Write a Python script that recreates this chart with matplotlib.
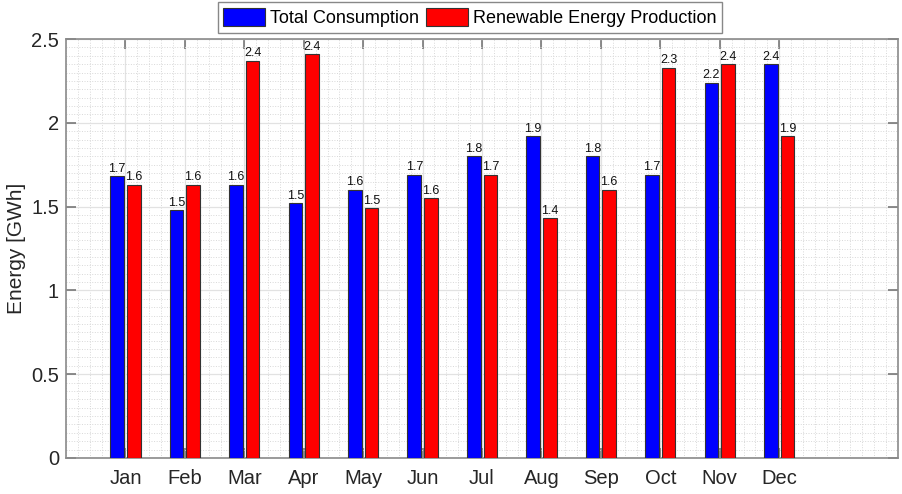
import matplotlib
matplotlib.use("Agg")
import matplotlib.pyplot as plt
import numpy as np
from matplotlib.ticker import MultipleLocator, FuncFormatter

months = ["Jan", "Feb", "Mar", "Apr", "May", "Jun",
          "Jul", "Aug", "Sep", "Oct", "Nov", "Dec"]
consumption = [1.68, 1.48, 1.63, 1.52, 1.60, 1.69, 1.80, 1.92, 1.80, 1.69, 2.24, 2.35]
renewable = [1.63, 1.63, 2.37, 2.41, 1.49, 1.55, 1.69, 1.43, 1.60, 2.33, 2.35, 1.92]

plt.rcParams['font.family'] = ['Liberation Sans', 'DejaVu Sans']

fig = plt.figure(figsize=(9.02, 4.94), dpi=100)
ax = fig.add_axes([0.0732, 0.0729, 0.9224, 0.848])

x = np.arange(1, len(months) + 1)
w = 0.23
b1 = ax.bar(x - 0.14, consumption, w, color='#0000ff', edgecolor='#333333',
            linewidth=0.8, label='Total Consumption', zorder=3)
b2 = ax.bar(x + 0.14, renewable, w, color='#ff0000', edgecolor='#333333',
            linewidth=0.8, label='Renewable Energy Production', zorder=3)
ax.bar_label(b1, fmt='%.1f', padding=1, fontsize=9, color='#111111')
ax.bar_label(b2, fmt='%.1f', padding=1, fontsize=9, color='#111111')

ax.set_xlim(0, 14)
ax.set_ylim(0, 2.5)
ax.set_xticks(x)
ax.set_xticklabels(months)
ax.set_yticks([0, 0.5, 1, 1.5, 2, 2.5])
ax.yaxis.set_major_formatter(FuncFormatter(lambda v, p: '%g' % v))
ax.xaxis.set_minor_locator(MultipleLocator(0.2))
ax.yaxis.set_minor_locator(MultipleLocator(0.05))

ax.tick_params(which='major', direction='in', length=7, width=1.2, color='#777777',
               top=True, right=True, labelsize=14.5, labelcolor='#262626')
ax.tick_params(axis='x', pad=8)
ax.tick_params(axis='y', pad=5)
ax.tick_params(which='minor', length=0)
ax.grid(which='major', color='#e2e2e2', linewidth=0.9, zorder=0)
ax.grid(which='minor', color='#d8d8d8', linestyle=':', linewidth=0.7, zorder=0)
ax.set_axisbelow(True)
for s in ax.spines.values():
    s.set_color('#8a8a8a')
    s.set_linewidth(1.2)

ax.set_ylabel('Energy [GWh]', fontsize=15, color='#262626', labelpad=4)

fig.legend(loc='center', bbox_to_anchor=(0.521, 0.9646), ncol=2, fontsize=13,
           frameon=True, fancybox=False, edgecolor='#888888', framealpha=1,
           handlelength=2.3, handleheight=1.2, handletextpad=0.3,
           columnspacing=0.4, borderpad=0.3, borderaxespad=0)

fig.savefig('out.png', dpi=100)
